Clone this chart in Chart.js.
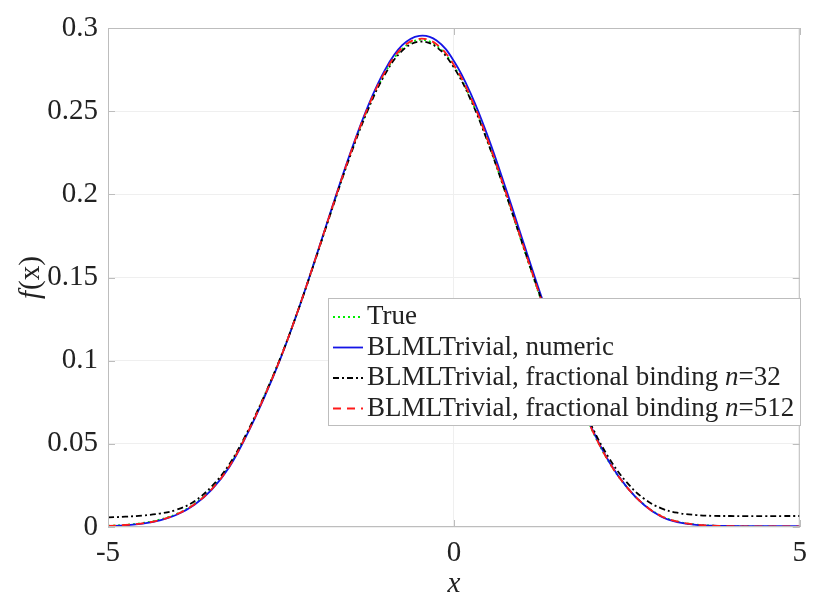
<!DOCTYPE html>
<html>
<head>
<meta charset="utf-8">
<script src="https://cdn.jsdelivr.net/npm/chart.js@4.4.1/dist/chart.umd.min.js"></script>
<style>
  html, body { margin: 0; padding: 0; background: #fff; }
  #wrap { width: 816px; height: 594px; }
</style>
</head>
<body>
<div id="wrap"><canvas id="density" width="816" height="594"></canvas></div>
<script>
// ═══════════════════════════════════════════════════════════════
// Density estimates f(x) — true vs BLMLTrivial variants
// ═══════════════════════════════════════════════════════════════

const xs = [
  -5.00, -4.75, -4.50, -4.25, -4.00, -3.75, -3.50, -3.25, -3.00, -2.75,
  -2.50, -2.25, -2.00, -1.75, -1.50, -1.25, -1.00, -0.75, -0.50, -0.25,
   0.00,  0.25,  0.50,  0.75,  1.00,  1.25,  1.50,  1.75,  2.00,  2.25,
   2.50,  2.75,  3.00,  3.25,  3.50,  3.75,  4.00,  4.25,  4.50,  4.75,
   5.00
];

const trueVals = [
  0.0007, 0.0013, 0.0024, 0.0045, 0.0080, 0.0140, 0.0232, 0.0365, 0.0555, 0.0778,
  0.1024, 0.1306, 0.1613, 0.1929, 0.2236, 0.2509, 0.2727, 0.2872, 0.2929, 0.2894,
  0.2770, 0.2567, 0.2305, 0.2004, 0.1688, 0.1377, 0.1089, 0.0820, 0.0580, 0.0385,
  0.0240, 0.0135, 0.0066, 0.0031, 0.0015, 0.0008, 0.0004, 0.0003, 0.0002, 0.0001,
  0.0001
];

const numericVals = [
  0.0005, 0.0010, 0.0020, 0.0040, 0.0075, 0.0134, 0.0225, 0.0358, 0.0548, 0.0770,
  0.1020, 0.1305, 0.1615, 0.1935, 0.2245, 0.2522, 0.2745, 0.2895, 0.2953, 0.2925,
  0.2802, 0.2600, 0.2338, 0.2036, 0.1718, 0.1403, 0.1108, 0.0834, 0.0588, 0.0388,
  0.0240, 0.0132, 0.0062, 0.0028, 0.0013, 0.0008, 0.0006, 0.0005, 0.0005, 0.0005,
  0.0005
];

const frac32Vals = [
  0.0058, 0.0062, 0.0069, 0.0081, 0.0105, 0.0155, 0.0245, 0.0375, 0.0560, 0.0780,
  0.1025, 0.1305, 0.1610, 0.1925, 0.2230, 0.2500, 0.2718, 0.2862, 0.2918, 0.2885,
  0.2762, 0.2562, 0.2302, 0.2005, 0.1692, 0.1385, 0.1100, 0.0835, 0.0600, 0.0410,
  0.0268, 0.0170, 0.0112, 0.0084, 0.0072, 0.0067, 0.0066, 0.0065, 0.0065, 0.0066,
  0.0066
];

const frac512Vals = [
  0.0006, 0.0012, 0.0022, 0.0042, 0.0078, 0.0137, 0.0228, 0.0362, 0.0552, 0.0775,
  0.1022, 0.1306, 0.1614, 0.1932, 0.2240, 0.2514, 0.2733, 0.2880, 0.2935, 0.2902,
  0.2778, 0.2576, 0.2314, 0.2012, 0.1695, 0.1383, 0.1093, 0.0824, 0.0582, 0.0386,
  0.0240, 0.0134, 0.0065, 0.0031, 0.0015, 0.0008, 0.0005, 0.0004, 0.0004, 0.0004,
  0.0004
];

const xTickLabels = ['-5', '0', '5'];
const yTickLabels = ['0', '0.05', '0.1', '0.15', '0.2', '0.25', '0.3'];

const SERIF = "'Liberation Serif', 'Times New Roman', serif";
const TEXT_COLOR = '#222';
const AXIS_COLOR = '#bdbdbd';
const GRID_COLOR = '#efefef';

const SERIES = [
  { label: 'True', data: trueVals, color: '#00ee00', dash: [2, 3], order: 3 },
  { label: 'BLMLTrivial, numeric', data: numericVals, color: '#1414e6', dash: [], order: 2 },
  { label: 'BLMLTrivial, fractional binding ', n: '32', data: frac32Vals, color: '#000', dash: [6, 3, 2, 3], order: 1 },
  { label: 'BLMLTrivial, fractional binding ', n: '512', data: frac512Vals, color: '#ff1a1a', dash: [8, 6], order: 0 }
];

function toPoints(vals) {
  return xs.map((x, i) => ({ x, y: vals[i] }));
}

/** Box, inward ticks, axis titles and legend drawn over the plot */
const framePlugin = {
  id: 'frame',
  afterDraw(chart) {
    const { ctx, chartArea: a, scales } = chart;
    ctx.save();

    // axes box
    ctx.strokeStyle = AXIS_COLOR;
    ctx.lineWidth = 1;
    ctx.setLineDash([]);
    ctx.strokeRect(a.left + 0.5, a.top + 0.5, a.right - a.left - 1, a.bottom - a.top - 1);

    // inward tick marks on all four sides
    ctx.beginPath();
    scales.x.ticks.forEach(t => {
      const px = Math.round(scales.x.getPixelForValue(t.value)) + 0.5;
      ctx.moveTo(px, a.bottom); ctx.lineTo(px, a.bottom - 7);
      ctx.moveTo(px, a.top); ctx.lineTo(px, a.top + 7);
    });
    scales.y.ticks.forEach(t => {
      const py = Math.round(scales.y.getPixelForValue(t.value)) + 0.5;
      ctx.moveTo(a.left, py); ctx.lineTo(a.left + 7, py);
      ctx.moveTo(a.right, py); ctx.lineTo(a.right - 7, py);
    });
    ctx.stroke();

    // x title
    ctx.fillStyle = TEXT_COLOR;
    ctx.font = `italic 29px ${SERIF}`;
    ctx.textAlign = 'center';
    ctx.textBaseline = 'middle';
    ctx.fillText('x', (a.left + a.right) / 2, 584);

    // y title: italic f, upright (x)
    ctx.save();
    ctx.translate(31, 278);
    ctx.rotate(-Math.PI / 2);
    ctx.textAlign = 'left';
    ctx.font = `italic 29px ${SERIF}`;
    const fW = ctx.measureText('f').width;
    ctx.font = `29px ${SERIF}`;
    const restW = ctx.measureText('(x)').width;
    const x0 = -(fW + restW) / 2;
    ctx.font = `italic 29px ${SERIF}`;
    ctx.fillText('f', x0, 0);
    ctx.font = `29px ${SERIF}`;
    ctx.fillText('(x)', x0 + fW + 1, 0);
    ctx.restore();

    drawLegend(ctx);
    ctx.restore();
  }
};

function drawLegend(ctx) {
  const box = { left: 328, top: 298, right: 800, bottom: 425 };
  ctx.fillStyle = '#fff';
  ctx.fillRect(box.left, box.top, box.right - box.left, box.bottom - box.top);
  ctx.strokeStyle = AXIS_COLOR;
  ctx.lineWidth = 1;
  ctx.setLineDash([]);
  ctx.strokeRect(box.left + 0.5, box.top + 0.5, box.right - box.left, box.bottom - box.top);

  const rows = [317, 347.5, 378, 408.5];
  ctx.textAlign = 'left';
  ctx.textBaseline = 'middle';
  SERIES.forEach((s, i) => {
    const y = rows[i];
    ctx.strokeStyle = s.color;
    ctx.lineWidth = 1.8;
    ctx.setLineDash(s.dash);
    ctx.beginPath();
    ctx.moveTo(333, y);
    ctx.lineTo(363, y);
    ctx.stroke();
    ctx.setLineDash([]);

    let tx = 367;
    ctx.fillStyle = TEXT_COLOR;
    ctx.font = `27px ${SERIF}`;
    ctx.fillText(s.label, tx, y);
    if (s.n) {
      tx += ctx.measureText(s.label).width;
      ctx.font = `italic 27px ${SERIF}`;
      ctx.fillText('n', tx, y);
      tx += ctx.measureText('n').width;
      ctx.font = `27px ${SERIF}`;
      ctx.fillText('=' + s.n, tx, y);
    }
  });
}

const ctx = document.getElementById('density').getContext('2d');

new Chart(ctx, {
  type: 'line',
  data: {
    datasets: SERIES.map(s => ({
      label: s.label + (s.n ? 'n=' + s.n : ''),
      data: toPoints(s.data),
      borderColor: s.color,
      borderWidth: 1.8,
      borderDash: s.dash,
      pointRadius: 0,
      fill: false,
      tension: 0.4,
      order: s.order
    }))
  },
  options: {
    responsive: false,
    animation: false,
    layout: { padding: { top: 28, right: 8, left: 0, bottom: 0 } },
    plugins: {
      legend: { display: false },
      tooltip: { enabled: false }
    },
    scales: {
      x: {
        type: 'linear',
        min: -5,
        max: 5,
        afterFit: s => { s.height = 67; },
        afterBuildTicks: s => { s.ticks = [-5, 0, 5].map(v => ({ value: v })); },
        grid: { color: GRID_COLOR, drawTicks: false },
        border: { display: false },
        ticks: {
          color: TEXT_COLOR,
          font: { family: SERIF, size: 29 },
          padding: 9,
          maxRotation: 0,
          callback: (v, i) => xTickLabels[i]
        }
      },
      y: {
        type: 'linear',
        min: 0,
        max: 0.3,
        afterFit: s => { s.width = 108; },
        grid: { color: GRID_COLOR, drawTicks: false },
        border: { display: false },
        ticks: {
          stepSize: 0.05,
          color: TEXT_COLOR,
          font: { family: SERIF, size: 29 },
          padding: 10,
          callback: (v, i) => yTickLabels[i]
        }
      }
    }
  },
  plugins: [framePlugin]
});
</script>
</body>
</html>
